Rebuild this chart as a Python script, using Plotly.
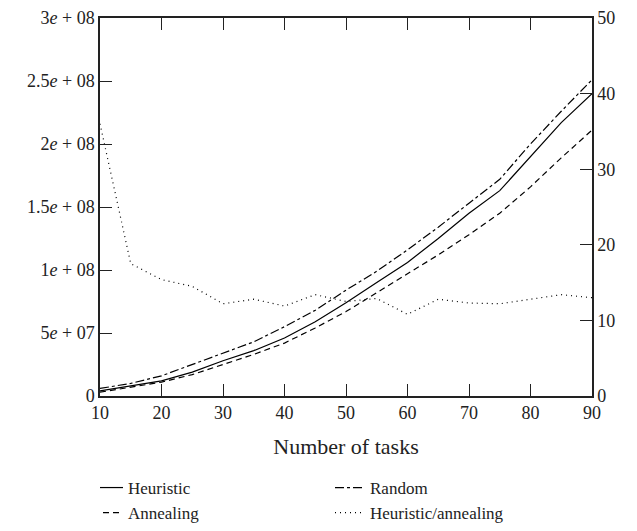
import plotly.graph_objects as go

tasks = [10, 15, 20, 25, 30, 35, 40, 45, 50, 55, 60, 65, 70, 75, 80, 85, 90]
heuristic = [4e6, 8e6, 12e6, 19e6, 28e6, 36e6, 46e6, 59e6, 74e6, 90e6, 106e6, 125e6, 145e6, 163e6, 190e6, 217e6, 240e6]
random_ = [6e6, 10e6, 16e6, 25e6, 34e6, 43e6, 55e6, 68e6, 84e6, 99e6, 116e6, 134e6, 153e6, 172e6, 200e6, 226e6, 251e6]
annealing = [3e6, 7e6, 11e6, 17e6, 25e6, 33e6, 42e6, 54e6, 67e6, 82e6, 97e6, 112e6, 128e6, 145e6, 166e6, 189e6, 211e6]
ratio = [36, 17.5, 15.4, 14.5, 12.2, 12.8, 11.9, 13.4, 12.5, 12.9, 10.8, 12.8, 12.3, 12.2, 12.8, 13.4, 13.0]

left_vals = [0, 5e7, 1e8, 1.5e8, 2e8, 2.5e8, 3e8]
left_text = ["0", "5<i>e</i> + 07", "1<i>e</i> + 08", "1.5<i>e</i> + 08", "2<i>e</i> + 08",
             "2.5<i>e</i> + 08", "3<i>e</i> + 08"]
right_vals = [0, 10, 20, 30, 40, 50]
x_vals = [10, 20, 30, 40, 50, 60, 70, 80, 90]

FONT = "Liberation Serif"
LW = 1.2

# page has an 8px body margin, so the figure is drawn 8px smaller/offset
W, H = 629, 523
MT, MB = 10, 0
PH = H - MT - MB
plot_bottom_px = 388
dom0 = (H - MB - plot_bottom_px) / PH

fig = go.Figure()
fig.add_trace(go.Scatter(x=tasks, y=heuristic, name="Heuristic", mode="lines",
                         line=dict(color="black", width=LW)))
fig.add_trace(go.Scatter(x=tasks, y=random_, name="Random", mode="lines",
                         line=dict(color="black", width=LW, dash="dashdot")))
fig.add_trace(go.Scatter(x=tasks, y=annealing, name="Annealing", mode="lines",
                         line=dict(color="black", width=LW, dash="6px,4px")))
fig.add_trace(go.Scatter(x=tasks, y=ratio, name="Heuristic/annealing", mode="lines",
                         yaxis="y2", line=dict(color="black", width=LW, dash="1px,4px")))

fig.update_layout(
    width=W, height=H,
    margin=dict(l=92, r=45, t=MT, b=MB, autoexpand=False),
    paper_bgcolor="white", plot_bgcolor="white",
    font=dict(family=FONT, size=18, color="#222"),
    xaxis=dict(range=[10, 90], tickvals=x_vals, ticks="inside", ticklen=12,
               tickcolor="#222", showline=True, linecolor="#222", linewidth=1.5,
               mirror="ticks", showgrid=False, zeroline=False, automargin=False,
               ticklabeloverflow="allow",
               title=dict(text="Number of tasks", standoff=16)),
    yaxis=dict(range=[0, 3e8], domain=[dom0, 1], tickvals=left_vals, ticktext=left_text,
               ticks="inside", ticklen=12, tickcolor="#222", showline=True,
               linecolor="#222", linewidth=1.5, showgrid=False, zeroline=False,
               automargin=False, ticklabeloverflow="allow"),
    yaxis2=dict(range=[0, 50], domain=[dom0, 1], tickvals=right_vals, overlaying="y",
                side="right", ticks="inside", ticklen=12, tickcolor="#222",
                showline=True, linecolor="#222", linewidth=1.5, showgrid=False,
                zeroline=False, automargin=False, ticklabeloverflow="allow"),
    legend=dict(orientation="h", x=0, xanchor="left", y=0.0, yanchor="bottom",
                entrywidth=209, entrywidthmode="pixels", indentation=-12,
                font=dict(family=FONT, size=17), traceorder="normal"),
    showlegend=True,
)

fig.write_html("out.html")
